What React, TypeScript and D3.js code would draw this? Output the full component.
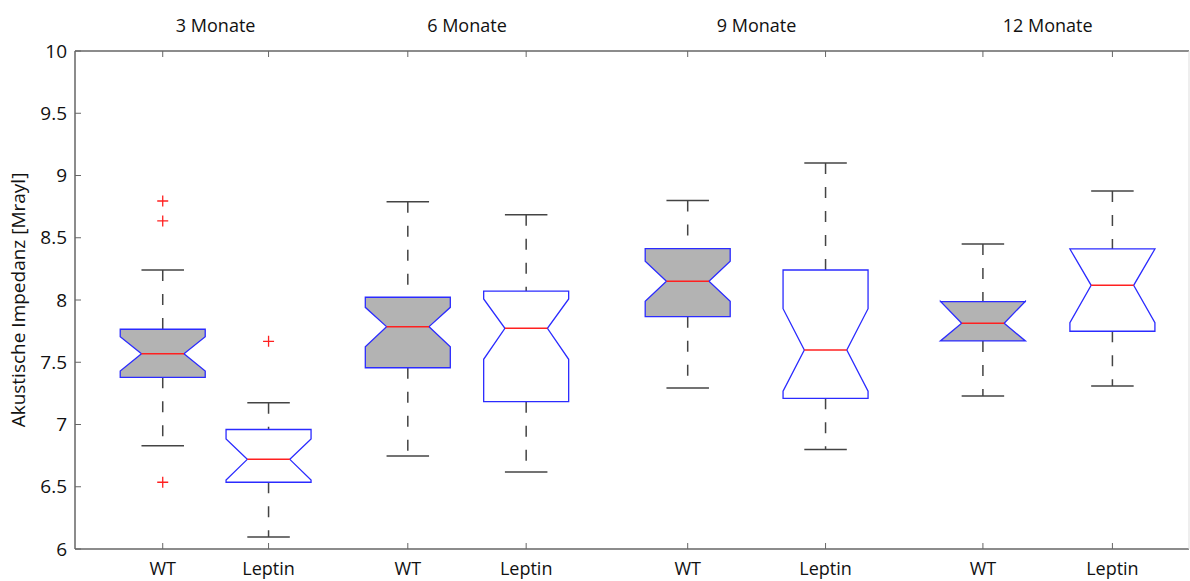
import React from "react";
import * as d3 from "d3";

// box statistics (Mrayl)
const groups = ["3 Monate", "6 Monate", "9 Monate", "12 Monate"];
const labels = ["WT", "Leptin", "WT", "Leptin", "WT", "Leptin", "WT", "Leptin"];
const positions = [1.13, 1.89, 2.89, 3.74, 4.9, 5.89, 7.02, 7.95];
const whiskerHi = [8.24, 7.175, 8.79, 8.685, 8.8, 9.1, 8.45, 8.875];
const q3 = [7.765, 6.96, 8.022, 8.072, 8.412, 8.241, 7.987, 8.41];
const notchHi = [7.705, 6.884, 7.941, 8.008, 8.311, 7.93, 7.99, 8.41];
const median = [7.569, 6.72, 7.786, 7.773, 8.15, 7.598, 7.813, 8.118];
const notchLo = [7.43, 6.554, 7.625, 7.524, 7.99, 7.267, 7.671, 7.818];
const q1 = [7.379, 6.536, 7.456, 7.183, 7.866, 7.21, 7.671, 7.749];
const whiskerLo = [6.83, 6.096, 6.747, 6.618, 7.293, 6.8, 7.229, 7.309];
const outliers = [[8.795, 8.635, 6.536], [7.668], [], [], [], [], [], []];
const yTicks = [6, 6.5, 7, 7.5, 8, 8.5, 9, 9.5, 10];

const W = 1190;
const H = 581;
const font = "'Open Sans', sans-serif";

export default function App() {
  const x = d3.scaleLinear().domain([0.5, 8.5]).range([75, 1189]);
  const y = d3.scaleLinear().domain([6, 10]).range([549, 51]);
  const half = 42.5;
  const line = d3.line<[number, number]>();

  return (
    <svg width={W} height={H} style={{ position: "absolute", left: 0, top: 0, background: "#fff" }}>
      {/* axes frame */}
      <line x1={75} x2={1189} y1={51} y2={51} stroke="#666" strokeWidth={1.5} />
      <line x1={75} x2={1189} y1={549} y2={549} stroke="#666" strokeWidth={1.5} />
      <line x1={75} x2={75} y1={51} y2={549} stroke="#666" strokeWidth={1.5} />
      <line x1={1189} x2={1189} y1={51} y2={549} stroke="#ddd" strokeWidth={1} />
      {yTicks.map((t) => (
        <g key={t}>
          <line x1={75} x2={81} y1={y(t)} y2={y(t)} stroke="#666" />
          <text x={67} y={y(t)} dy="0.35em" textAnchor="end" fontFamily={font} fontSize={19} fill="#111">
            {t}
          </text>
        </g>
      ))}
      <text
        transform={`translate(25,${(51 + 549) / 2}) rotate(-90)`}
        textAnchor="middle"
        fontFamily={font}
        fontSize={19}
        fill="#111"
      >
        Akustische Impedanz [Mrayl]
      </text>
      {groups.map((g, i) => (
        <text
          key={g}
          x={(x(positions[2 * i]) + x(positions[2 * i + 1])) / 2}
          y={32}
          textAnchor="middle"
          fontFamily={font}
          fontSize={18}
          fill="#111"
        >
          {g}
        </text>
      ))}
      {positions.map((p, i) => {
        const cx = x(p);
        const box: [number, number][] = [
          [cx - half, y(q3[i])],
          [cx + half, y(q3[i])],
          [cx + half, y(notchHi[i])],
          [cx + half / 2, y(median[i])],
          [cx + half, y(notchLo[i])],
          [cx + half, y(q1[i])],
          [cx - half, y(q1[i])],
          [cx - half, y(notchLo[i])],
          [cx - half / 2, y(median[i])],
          [cx - half, y(notchHi[i])],
        ];
        return (
          <g key={i}>
            <line x1={cx} x2={cx} y1={51} y2={57} stroke="#666" />
            <line x1={cx} x2={cx} y1={549} y2={543} stroke="#666" />
            <line x1={cx} x2={cx} y1={y(whiskerHi[i])} y2={y(q3[i])} stroke="#444" strokeWidth={1.5} strokeDasharray="11 13" />
            <line x1={cx} x2={cx} y1={y(q1[i])} y2={y(whiskerLo[i])} stroke="#444" strokeWidth={1.5} strokeDasharray="11 13" />
            <line x1={cx - half / 2} x2={cx + half / 2} y1={y(whiskerHi[i])} y2={y(whiskerHi[i])} stroke="#444" strokeWidth={1.5} />
            <line x1={cx - half / 2} x2={cx + half / 2} y1={y(whiskerLo[i])} y2={y(whiskerLo[i])} stroke="#444" strokeWidth={1.5} />
            <path d={line(box) + "Z"} fill={i % 2 === 0 ? "#b3b3b3" : "#fff"} stroke="#2b2bff" strokeWidth={1.3} />
            <line x1={cx - half / 2} x2={cx + half / 2} y1={y(median[i])} y2={y(median[i])} stroke="#ff2020" strokeWidth={1.5} />
            {outliers[i].map((o, k) => (
              <path
                key={k}
                d={`M${cx - 5.5},${y(o)}H${cx + 5.5}M${cx},${y(o) - 5.5}V${y(o) + 5.5}`}
                stroke="#ff2020"
                strokeWidth={1.3}
              />
            ))}
            <text x={cx} y={575} textAnchor="middle" fontFamily={font} fontSize={18} fill="#111">
              {labels[i]}
            </text>
          </g>
        );
      })}
    </svg>
  );
}
